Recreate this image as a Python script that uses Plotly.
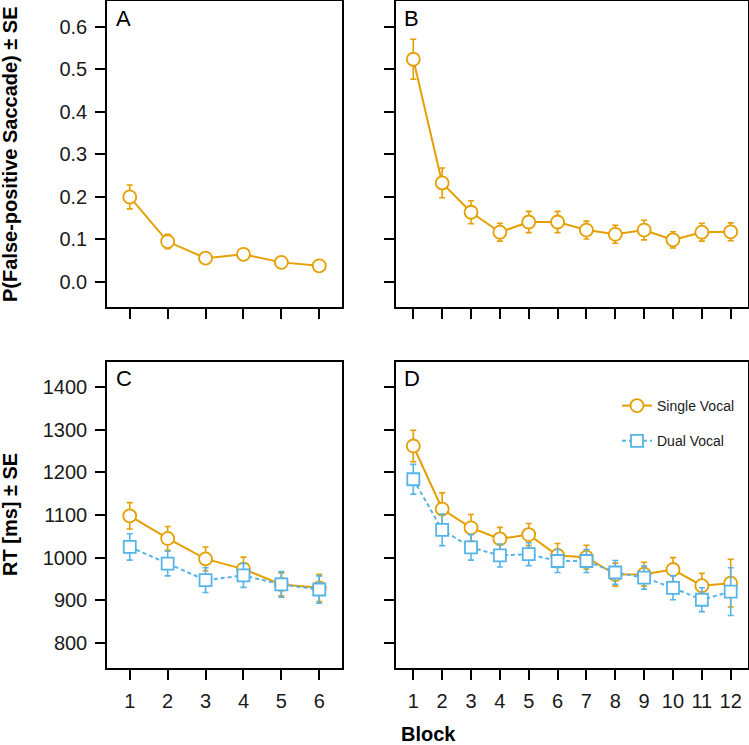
import plotly.graph_objects as go

FONT = "Liberation Sans, Arial, sans-serif"
ORANGE = "#E69F00"
BLUE = "#56B4E9"

# ---------------- data ----------------
blocks_short = [1, 2, 3, 4, 5, 6]
blocks_long = [1, 2, 3, 4, 5, 6, 7, 8, 9, 10, 11, 12]

# Panel A: P(false-positive saccade), 6 blocks
fp_A = [0.199, 0.094, 0.055, 0.064, 0.045, 0.037]
fp_A_se = [0.028, 0.017, 0.005, 0.010, 0.005, 0.005]

# Panel B: P(false-positive saccade), 12 blocks
fp_B = [0.523, 0.232, 0.163, 0.116, 0.140, 0.140, 0.121, 0.111, 0.121, 0.098, 0.116, 0.117]
fp_B_se = [0.047, 0.035, 0.027, 0.021, 0.025, 0.025, 0.021, 0.021, 0.023, 0.019, 0.021, 0.021]

# Panel C: RT, 6 blocks
rt_C_single = [1098, 1045, 997, 973, 937, 929]
rt_C_single_se = [31, 28, 28, 28, 27, 32]
rt_C_dual = [1025, 986, 947, 958, 937, 925]
rt_C_dual_se = [31, 29, 29, 28, 30, 32]

# Panel D: RT, 12 blocks
rt_D_single = [1262, 1114, 1070, 1044, 1054, 1005, 1001, 960, 961, 972, 934, 940]
rt_D_single_se = [37, 38, 31, 27, 26, 28, 28, 27, 28, 28, 29, 56]
rt_D_dual = [1184, 1065, 1024, 1005, 1008, 992, 992, 965, 953, 929, 901, 920]
rt_D_dual_se = [35, 37, 30, 27, 27, 27, 27, 28, 27, 28, 28, 56]

series_labels = ["Single Vocal", "Dual Vocal"]
panel_letters = ["A", "B", "C", "D"]

W, H = 749, 745


def px_x(p):
    return p / W


def px_y(p):
    return 1 - p / H


def single_trace(x, y, se, xa, ya, name=None, show=False):
    return go.Scatter(
        x=x, y=y, xaxis=xa, yaxis=ya, mode="lines+markers",
        name=name, showlegend=show, legendgroup=name,
        line=dict(color=ORANGE, width=2),
        marker=dict(symbol="circle", size=13, color="white",
                    line=dict(color=ORANGE, width=1.8)),
        error_y=dict(type="data", array=se, visible=True, color=ORANGE,
                     thickness=1.6, width=3),
        hoverinfo="skip",
    )


def dual_trace(x, y, se, xa, ya, name=None, show=False):
    return go.Scatter(
        x=x, y=y, xaxis=xa, yaxis=ya, mode="lines+markers",
        name=name, showlegend=show, legendgroup=name,
        line=dict(color=BLUE, width=2, dash="4px,3px"),
        marker=dict(symbol="square", size=12, color="white",
                    line=dict(color=BLUE, width=1.8)),
        error_y=dict(type="data", array=se, visible=True, color=BLUE,
                     thickness=1.6, width=3),
        hoverinfo="skip",
    )


fig = go.Figure()
fig.add_trace(single_trace(blocks_short, fp_A, fp_A_se, "x", "y"))
fig.add_trace(single_trace(blocks_long, fp_B, fp_B_se, "x2", "y2"))
fig.add_trace(single_trace(blocks_short, rt_C_single, rt_C_single_se, "x3", "y3"))
fig.add_trace(dual_trace(blocks_short, rt_C_dual, rt_C_dual_se, "x3", "y3"))
fig.add_trace(single_trace(blocks_long, rt_D_single, rt_D_single_se, "x4", "y4",
                           name=series_labels[0], show=True))
fig.add_trace(dual_trace(blocks_long, rt_D_dual, rt_D_dual_se, "x4", "y4",
                         name=series_labels[1], show=True))

left_dom = [px_x(107), px_x(342)]
right_dom = [px_x(396), px_x(748)]
top_dom = [px_y(307), px_y(1)]
bot_dom = [px_y(668.3), px_y(361.7)]

tick_font = dict(family=FONT, size=20, color="#1a1a1a")

common_axis = dict(
    showline=True, linecolor="black", linewidth=1.5, mirror=True,
    ticks="outside", ticklen=10, tickwidth=1.5, tickcolor="black",
    showgrid=False, zeroline=False, tickfont=tick_font, automargin=False,
)


def xaxis(dom, anchor, rng, n, labels):
    d = dict(common_axis)
    d.update(domain=dom, anchor=anchor, range=rng, tickmode="array",
             tickvals=list(range(1, n + 1)), showticklabels=labels,
             ticklabelstandoff=4)
    return d


def yaxis(dom, anchor, rng, tickvals, labels, fmt=None):
    d = dict(common_axis)
    d.update(domain=dom, anchor=anchor, range=rng, tickmode="array",
             tickvals=tickvals, showticklabels=labels, ticklabelstandoff=4)
    if fmt:
        d["tickformat"] = fmt
    return d


p_ticks = [0.0, 0.1, 0.2, 0.3, 0.4, 0.5, 0.6]
rt_ticks = [800, 900, 1000, 1100, 1200, 1300, 1400]

fig.update_layout(
    width=W, height=H,
    margin=dict(l=0, r=0, t=0, b=0),
    paper_bgcolor="white", plot_bgcolor="white",
    font=dict(family=FONT, color="#1a1a1a"),
    xaxis=xaxis(left_dom, "y", [0.4, 6.6], 6, False),
    yaxis=yaxis(top_dom, "x", [-0.06, 0.66], p_ticks, True, ".1f"),
    xaxis2=xaxis(right_dom, "y2", [0.4, 12.6], 12, False),
    yaxis2=yaxis(top_dom, "x2", [-0.06, 0.66], p_ticks, False),
    xaxis3=xaxis(left_dom, "y3", [0.4, 6.6], 6, True),
    yaxis3=yaxis(bot_dom, "x3", [740, 1460], rt_ticks, True),
    xaxis4=xaxis(right_dom, "y4", [0.4, 12.6], 12, True),
    yaxis4=yaxis(bot_dom, "x4", [740, 1460], rt_ticks, False),
    showlegend=True,
    legend=dict(
        x=px_x(617), y=px_y(390), xanchor="left", yanchor="top",
        bgcolor="rgba(0,0,0,0)", borderwidth=0,
        font=dict(family=FONT, size=14, color="#1a1a1a"),
        traceorder="grouped", tracegroupgap=14,
    ),
)

annots = []
letter_pos = [(124, 18), (411, 18), (124, 379), (412, 379)]
for letter, (lx, ly) in zip(panel_letters, letter_pos):
    annots.append(dict(text=letter, x=px_x(lx), y=px_y(ly), xref="paper", yref="paper",
                       showarrow=False, font=dict(family=FONT, size=22, color="black"),
                       xanchor="center", yanchor="middle"))

annots.append(dict(text="<b>P(False-positive Saccade) ± SE</b>", x=px_x(10), y=px_y(154),
                   xref="paper", yref="paper", showarrow=False, textangle=-90,
                   font=dict(family=FONT, size=20, color="black"),
                   xanchor="center", yanchor="middle"))
annots.append(dict(text="<b>RT [ms] ± SE</b>", x=px_x(10), y=px_y(515),
                   xref="paper", yref="paper", showarrow=False, textangle=-90,
                   font=dict(family=FONT, size=20, color="black"),
                   xanchor="center", yanchor="middle"))
annots.append(dict(text="<b>Block</b>", x=px_x(428), y=px_y(734),
                   xref="paper", yref="paper", showarrow=False,
                   font=dict(family=FONT, size=20, color="black"),
                   xanchor="center", yanchor="middle"))
fig.update_layout(annotations=annots)

fig.write_html("out.html")
